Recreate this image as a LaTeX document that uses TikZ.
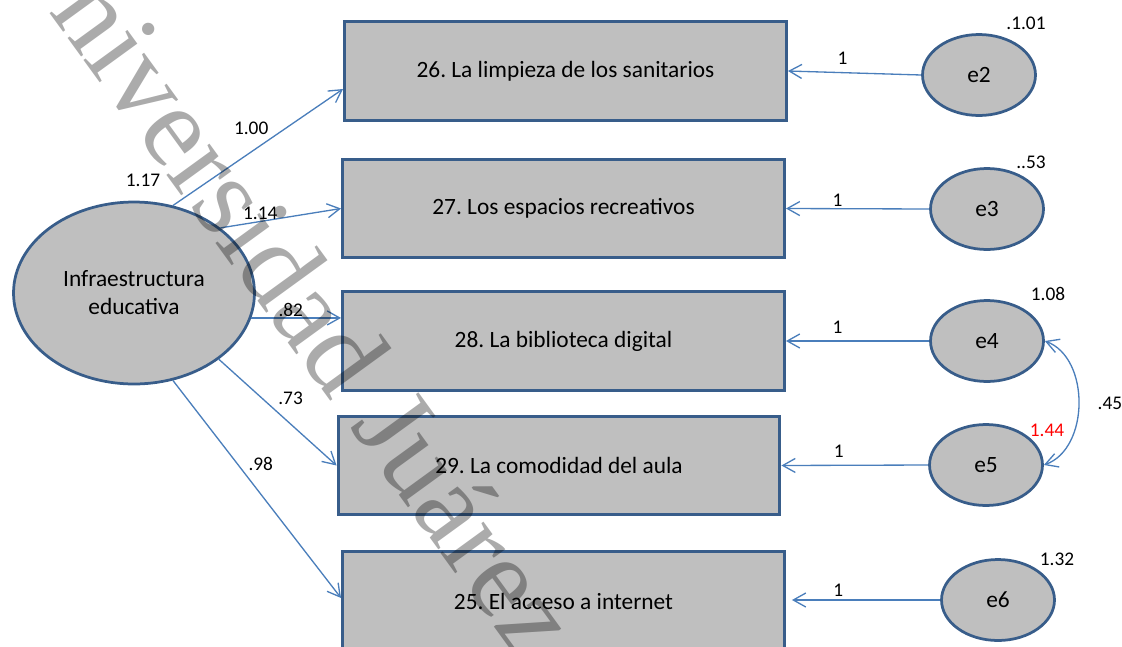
\documentclass[tikz,border=0pt]{standalone}
\usepackage{fontspec}
\setmainfont{Carlito}
\newfontfamily\marcafont{Liberation Serif}
\usetikzlibrary{shapes.geometric,arrows.meta}
\definecolor{azulborde}{HTML}{385D8A}
\definecolor{azulflecha}{HTML}{4A7EBB}
\definecolor{grisrelleno}{HTML}{BFBFBF}
\frenchspacing
\begin{document}
\begin{tikzpicture}[x=0.02cm,y=-0.02cm]
        \tikzstyle{item}=[rectangle,draw=azulborde,line width=0.06cm,fill=grisrelleno,minimum width=8.84cm,minimum height=1.98cm,font=\fontsize{13.3}{16}\selectfont]
        \tikzstyle{factor}=[ellipse,draw=azulborde,line width=0.055cm,fill=grisrelleno,minimum width=4.82cm,minimum height=3.64cm,align=center,font=\fontsize{13.3}{16}\selectfont]
        \tikzstyle{error}=[ellipse,draw=azulborde,line width=0.055cm,fill=grisrelleno,minimum width=2.26cm,minimum height=1.62cm,font=\fontsize{13.3}{16}\selectfont]
        \tikzstyle{carga}=[draw=azulflecha,line width=0.75pt,-{Straight Barb[length=2.5mm,width=2.8mm]}]
        \tikzstyle{cov}=[draw=azulflecha,line width=0.75pt,{Straight Barb[length=2.5mm,width=2.8mm]}-{Straight Barb[length=2.5mm,width=2.8mm]}]
        \tikzstyle{coef}=[font=\fontsize{11}{13}\selectfont,inner sep=0.5pt]
        \tikzstyle{marca}=[font=\marcafont\fontsize{66}{76}\selectfont,text=black,opacity=0.33,rotate=-54,anchor=base,inner sep=0pt]
        \clip (0,0) rectangle (1122,646);
        % factor
        \node [factor] (f1) at (134,293) {Infraestructura\\educativa};
        % indicadores
        \node [item] (b26) at (565.5,71) {26. La limpieza de los sanitarios};
        \node [item] (b27) at (563.5,208.5) {27. Los espacios recreativos};
        \node [item] (b28) at (563.5,341) {28. La biblioteca digital};
        \node [item] (b29) at (559,465.5) {29. La comodidad del aula};
        \node [item] (b25) at (563.5,601) {25. El acceso a internet};
        % errores
        \node [error] (e2) at (979,75) {e2};
        \node [error] (e3) at (987,209) {e3};
        \node [error] (e4) at (987,341) {e4};
        \node [error] (e5) at (986,465) {e5};
        \node [error] (e6) at (998,600) {e6};
        % varianzas
        \node [coef] (v1) at (143,180) {1.17};
        \node [coef] (v2) at (1026,23) {.1.01};
        \node [coef] (v3) at (1031,162) {..53};
        \node [coef] (v4) at (1048,294) {1.08};
        \node [coef,text=red] (v5) at (1047,430) {1.44};
        \node [coef] (v6) at (1057,559) {1.32};
        % cargas
        \draw[carga] (f1.66) -- node[coef,pos=0.58,above left=1pt] {1.00} ([yshift=-0.36cm]b26.west);
        \draw[carga] (f1.37) -- node[coef,pos=0.33,above] {1.14} (b27.west);
        \draw[carga] (f1.-12) -- node[coef,pos=0.44,above] {.82} (f1.-12 -| b28.west);
        \draw[carga] (f1.-38) -- node[coef,pos=0.47,above right=1.5pt] {.73} (b29.west);
        \draw[carga] (f1.-66) -- node[coef,pos=0.43,above right=1pt] {.98} ([yshift=0.06cm]b25.west);
        % errores a indicadores
        \draw[carga] (e2.west) -- node[coef,pos=0.59,above=4pt] {1} (b26.east);
        \draw[carga] (e3.west) -- node[coef,pos=0.64,above=0.5pt] {1} (b27.east);
        \draw[carga] (e4.west) -- node[coef,pos=0.64,above=3.5pt] {1} (b28.east);
        \draw[carga] (e5.west) -- node[coef,pos=0.61,above=3.5pt] {1} (b29.east);
        \draw[carga,shorten >=0.12cm] (e6.west) -- node[coef,pos=0.66,above=1pt] {1} (e6.west -| b25.east);
        % covarianza
        \draw[cov] (e4.east) to [bend left=70] node[coef,right=10pt] {.45} (e5.east);
        % marca de agua
        \node [marca] (m1) at (261,305) {Universidad Juárez};
\end{tikzpicture}
\end{document}
